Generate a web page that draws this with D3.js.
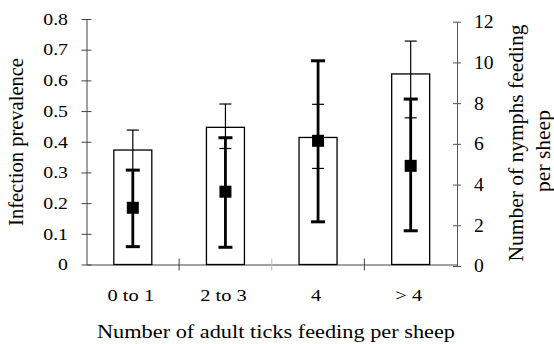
<!DOCTYPE html>
<html>
<head>
<meta charset="utf-8">
<script src="https://cdn.jsdelivr.net/npm/d3@7"></script>
<style>
	body{margin:0;background:#fff}
</style>
</head>
<body>
<svg id="chart" width="554" height="344"></svg>
<script>
const categories = ['0 to 1','2 to 3','4','> 4']

// open bars, left axis
const prevalence = [0.373,0.447,0.414,0.621]
const prevLow = [0.308,0.378,0.313,0.478]
const prevHigh = [0.438,0.523,0.522,0.728]

// filled squares, right axis
const nymphs = [2.86,3.65,6.15,4.92]
const nymphLow = [0.95,0.92,2.17,1.73]
const nymphHigh = [4.71,6.30,10.08,8.20]

const prevTicks = [0,0.1,0.2,0.3,0.4,0.5,0.6,0.7,0.8]
const prevLabels = ['0','0.1','0.2','0.3','0.4','0.5','0.6','0.7','0.8']
const nymphTicks = [0,2,4,6,8,10,12]
const nymphLabels = ['0','2','4','6','8','10','12']

const xTitle = 'Number of adult ticks feeding per sheep'
const yTitle = 'Infection prevalence'
const y2Title = ['Number of nymphs feeding','per sheep']

const font = "'Liberation Serif','Times New Roman',serif"
const left = 86.5, right = 457
const barW = 38

const svg = d3.select('#chart').attr('font-family',font)

const x = d3.scaleBand().domain(categories).range([left,right])
const yL = d3.scaleLinear().domain([0,0.8]).range([264.5,19])
const yR = d3.scaleLinear().domain([0,12]).range([266,21.7])
const cx = c => x(c) + x.bandwidth() / 2

const rows = categories.map((c,i)=>({
	c:c, p:prevalence[i], pl:prevLow[i], ph:prevHigh[i],
	n:nymphs[i], nl:nymphLow[i], nh:nymphHigh[i]
}))

// left axis
const axL = svg.append('g')
	.attr('transform',`translate(${left},0)`)
	.call(d3.axisLeft(yL).tickValues(prevTicks).tickFormat((d,i)=>prevLabels[i]).tickSizeOuter(0).tickPadding(12))
	.attr('font-family',font)
axL.select('.domain').attr('stroke','#444')
axL.selectAll('.tick line').attr('x1',-5).attr('x2',5).attr('stroke','#444')
axL.selectAll('.tick text')
	.attr('font-size',16.5)
	.attr('x',-18.5 / 1.2)
	.attr('transform','scale(1.2,1)')
	.attr('fill','#000')

// right axis
const axR = svg.append('g')
	.attr('transform',`translate(${right},0)`)
	.call(d3.axisRight(yR).tickValues(nymphTicks).tickFormat((d,i)=>nymphLabels[i]).tickSizeOuter(0).tickPadding(12))
	.attr('font-family',font)
axR.select('.domain').attr('stroke','#555')
axR.selectAll('.tick line').attr('x1',-4).attr('x2',4).attr('stroke','#555')
axR.selectAll('.tick text')
	.attr('font-size',18.5)
	.attr('x',17 / 1.06)
	.attr('transform','scale(1.06,1)')
	.attr('fill','#000')

// bottom axis
const axB = svg.append('g')
	.attr('transform',`translate(0,${yL(0)})`)
	.call(d3.axisBottom(x).tickSize(0).tickSizeOuter(0))
	.attr('font-family',font)
axB.select('.domain').attr('stroke','#444')
axB.selectAll('.tick text')
	.attr('font-size',16.5)
	.attr('dy',0)
	.attr('y',36.5)
	.attr('transform','translate(-2,0) scale(1.24,1)')
	.attr('fill','#000')

axB.selectAll('.sep')
	.data(categories.slice(1))
	.enter()
	.append('line')
	.classed('sep',true)
	.attr('x1',d=>x(d))
	.attr('x2',d=>x(d))
	.attr('y1',-6)
	.attr('y2',6)
	.attr('stroke',(d,i)=> i == 1 ? '#bbb' : '#444')

// bars
svg.selectAll('.bar')
	.data(rows)
	.enter()
	.append('rect')
	.classed('bar',true)
	.attr('x',d=>cx(d.c) - barW / 2)
	.attr('y',d=>yL(d.p))
	.attr('width',barW)
	.attr('height',d=>yL(0) - yL(d.p))
	.attr('fill','#fff')
	.attr('stroke','#000')
	.attr('stroke-width',1.3)

// thin error bars for the bars
const thin = svg.selectAll('.thin')
	.data(rows)
	.enter()
	.append('g')
	.classed('thin',true)
	.attr('stroke','#000')
	.attr('stroke-width',1.2)
thin.append('line')
	.attr('x1',d=>cx(d.c)).attr('x2',d=>cx(d.c))
	.attr('y1',d=>yL(d.pl)).attr('y2',d=>yL(d.ph))
thin.append('line')
	.attr('x1',d=>cx(d.c) - 6).attr('x2',d=>cx(d.c) + 6)
	.attr('y1',d=>yL(d.ph)).attr('y2',d=>yL(d.ph))
thin.append('line')
	.attr('x1',d=>cx(d.c) - 6).attr('x2',d=>cx(d.c) + 6)
	.attr('y1',d=>yL(d.pl)).attr('y2',d=>yL(d.pl))

// thick error bars for the squares
const thick = svg.selectAll('.thick')
	.data(rows)
	.enter()
	.append('g')
	.classed('thick',true)
	.attr('stroke','#000')
thick.append('line')
	.attr('x1',d=>cx(d.c)).attr('x2',d=>cx(d.c))
	.attr('y1',d=>yR(d.nl)).attr('y2',d=>yR(d.nh))
	.attr('stroke-width',2.8)
thick.append('line')
	.attr('x1',d=>cx(d.c) - 7).attr('x2',d=>cx(d.c) + 7)
	.attr('y1',d=>yR(d.nh)).attr('y2',d=>yR(d.nh))
	.attr('stroke-width',3)
thick.append('line')
	.attr('x1',d=>cx(d.c) - 7).attr('x2',d=>cx(d.c) + 7)
	.attr('y1',d=>yR(d.nl)).attr('y2',d=>yR(d.nl))
	.attr('stroke-width',3)

svg.selectAll('.sq')
	.data(rows)
	.enter()
	.append('rect')
	.classed('sq',true)
	.attr('x',d=>cx(d.c) - 6)
	.attr('y',d=>yR(d.n) - 6)
	.attr('width',12)
	.attr('height',12)
	.attr('fill','#000')

// titles
svg.append('text')
	.attr('x',276)
	.attr('y',338)
	.attr('text-anchor','middle')
	.attr('font-size',18)
	.attr('textLength',358)
	.attr('lengthAdjust','spacingAndGlyphs')
	.text(xTitle)

svg.append('text')
	.attr('transform','translate(23,142) rotate(-90)')
	.attr('text-anchor','middle')
	.attr('font-size',20.5)
	.text(yTitle)

const t2 = svg.append('text')
	.attr('transform','translate(523,143) rotate(-90)')
	.attr('text-anchor','middle')
	.attr('font-size',21.5)
t2.append('tspan').attr('x',0).attr('dy',0).text(y2Title[0])
t2.append('tspan').attr('x',-8).attr('dy',27).text(y2Title[1])
</script>
</body>
</html>
